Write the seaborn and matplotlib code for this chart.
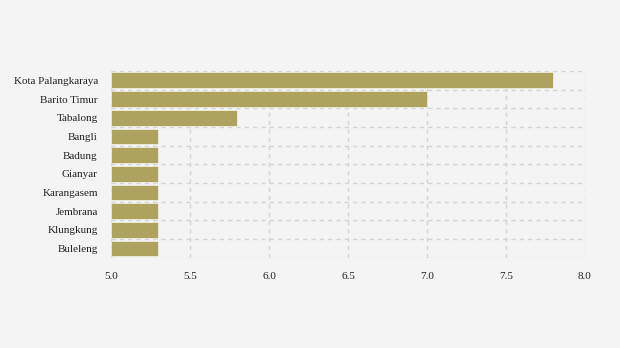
import matplotlib
matplotlib.use("Agg")
import matplotlib.pyplot as plt
import seaborn as sns
import pandas as pd
import numpy as np

categories = ["Kota Palangkaraya", "Barito Timur", "Tabalong", "Bangli", "Badung",
              "Gianyar", "Karangasem", "Jembrana", "Klungkung", "Buleleng"]
values = [7.8, 7.0, 5.8, 5.3, 5.3, 5.3, 5.3, 5.3, 5.3, 5.3]
xticks = [5.0, 5.5, 6.0, 6.5, 7.0, 7.5, 8.0]

sns.set_theme(style="white")
plt.rcParams['font.family'] = ['Liberation Serif', 'DejaVu Serif']

df = pd.DataFrame({"region": categories, "value": values})

fig = plt.figure(figsize=(6.2, 3.48), dpi=100, facecolor="#f4f4f4")
ax = fig.add_axes([0.179, 0.259, 0.7645, 0.537])
ax.set_facecolor("#f4f4f4")

sns.barplot(data=df, y="region", x="value", orient="h", color="#ada25e",
            saturation=1, width=0.84, edgecolor="white", linewidth=0.4, ax=ax)
# bars start at 5.0
for p in ax.patches:
    w = p.get_width()
    p.set_x(5.0)
    p.set_width(w - 5.0)

ax.set_xlim(5.0, 8.0)
ax.set_ylim(len(categories) - 0.5, -0.5)
ax.set_xticks(xticks)
ax.set_xticklabels([f"{t:.1f}" for t in xticks], fontsize=8, color="#222222")
ax.tick_params(axis="y", labelsize=8, labelcolor="#222222", length=3.5, color="#d8d8d8", width=1, pad=6)
ax.tick_params(axis="x", length=0, pad=10)
ax.set_yticks(np.arange(-0.5, len(categories), 1.0), minor=True)
ax.tick_params(axis="y", which="minor", length=0)
ax.xaxis.grid(True, linestyle=(0, (3, 3)), color="#d4d4d4", linewidth=1)
ax.yaxis.grid(True, which="minor", linestyle=(0, (3, 3)), color="#d4d4d4", linewidth=1)
ax.set_axisbelow(True)
for s in ax.spines.values():
    s.set_visible(False)
ax.set_xlabel("")
ax.set_ylabel("")

fig.savefig("out.png", dpi=100, facecolor=fig.get_facecolor())
